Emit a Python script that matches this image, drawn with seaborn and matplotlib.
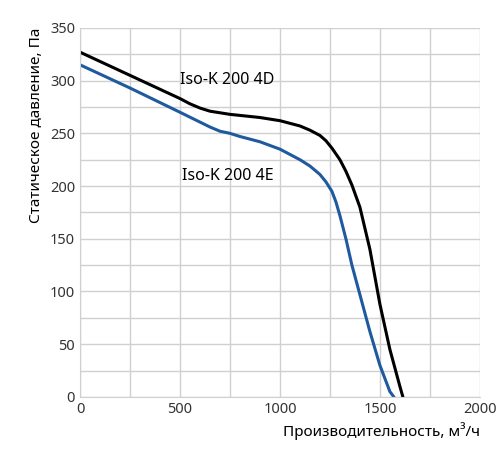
import matplotlib
matplotlib.use("Agg")
import matplotlib.pyplot as plt
import seaborn as sns
import numpy as np
import pandas as pd

sns.set_style("white")
plt.rcParams['font.family'] = ['Noto Sans', 'DejaVu Sans']

x_4d = [0, 250, 500, 550, 600, 650, 750, 900, 1000, 1100, 1150, 1200, 1230, 1260, 1300, 1330, 1360, 1400, 1450, 1500, 1550, 1600, 1615]
y_4d = [327, 305, 283, 278, 274, 271, 268, 265, 262, 257, 253, 248, 243, 236, 225, 214, 201, 180, 140, 88, 45, 10, 0]
x_4e = [0, 250, 500, 650, 700, 750, 800, 900, 1000, 1100, 1150, 1200, 1230, 1260, 1280, 1300, 1330, 1360, 1400, 1450, 1500, 1550, 1570]
y_4e = [315, 293, 270, 256, 252, 250, 247, 242, 235, 225, 219, 211, 204, 195, 185, 172, 150, 125, 97, 62, 30, 5, 0]

fig = plt.figure(figsize=(5.03, 4.5), dpi=100)
ax = fig.add_axes([0.159, 0.118, 0.795, 0.82])
ax.set_xticks(np.arange(0, 2001, 250), minor=True)
ax.set_yticks(np.arange(0, 351, 25), minor=True)
ax.grid(which='both', color='#d0d0d0', lw=1)
ax.set_axisbelow(True)
sns.lineplot(x=x_4d, y=y_4d, ax=ax, color='black', lw=2.2)
sns.lineplot(x=x_4e, y=y_4e, ax=ax, color='#1f5a9e', lw=2.2)
ax.set_xlim(0, 2000); ax.set_ylim(0, 350)
ax.set_xticks(range(0, 2001, 500)); ax.set_yticks(range(0, 351, 50))
ax.tick_params(which='both', length=0, labelsize=10.5, colors='#333333')
for s in ['top', 'right']:
    ax.spines[s].set_visible(False)
for s in ['left', 'bottom']:
    ax.spines[s].set_color('#d0d0d0')
ax.text(500, 297, 'Iso-K 200 4D', fontsize=11.5, color='black')
ax.text(510, 206, 'Iso-K 200 4E', fontsize=11.5, color='black')
ax.set_xlabel('Производительность, м³/ч', fontsize=11, loc='right', color='black')
ax.set_ylabel('Статическое давление, Па', fontsize=11, loc='top', color='black')
fig.savefig('out.png', dpi=100)
